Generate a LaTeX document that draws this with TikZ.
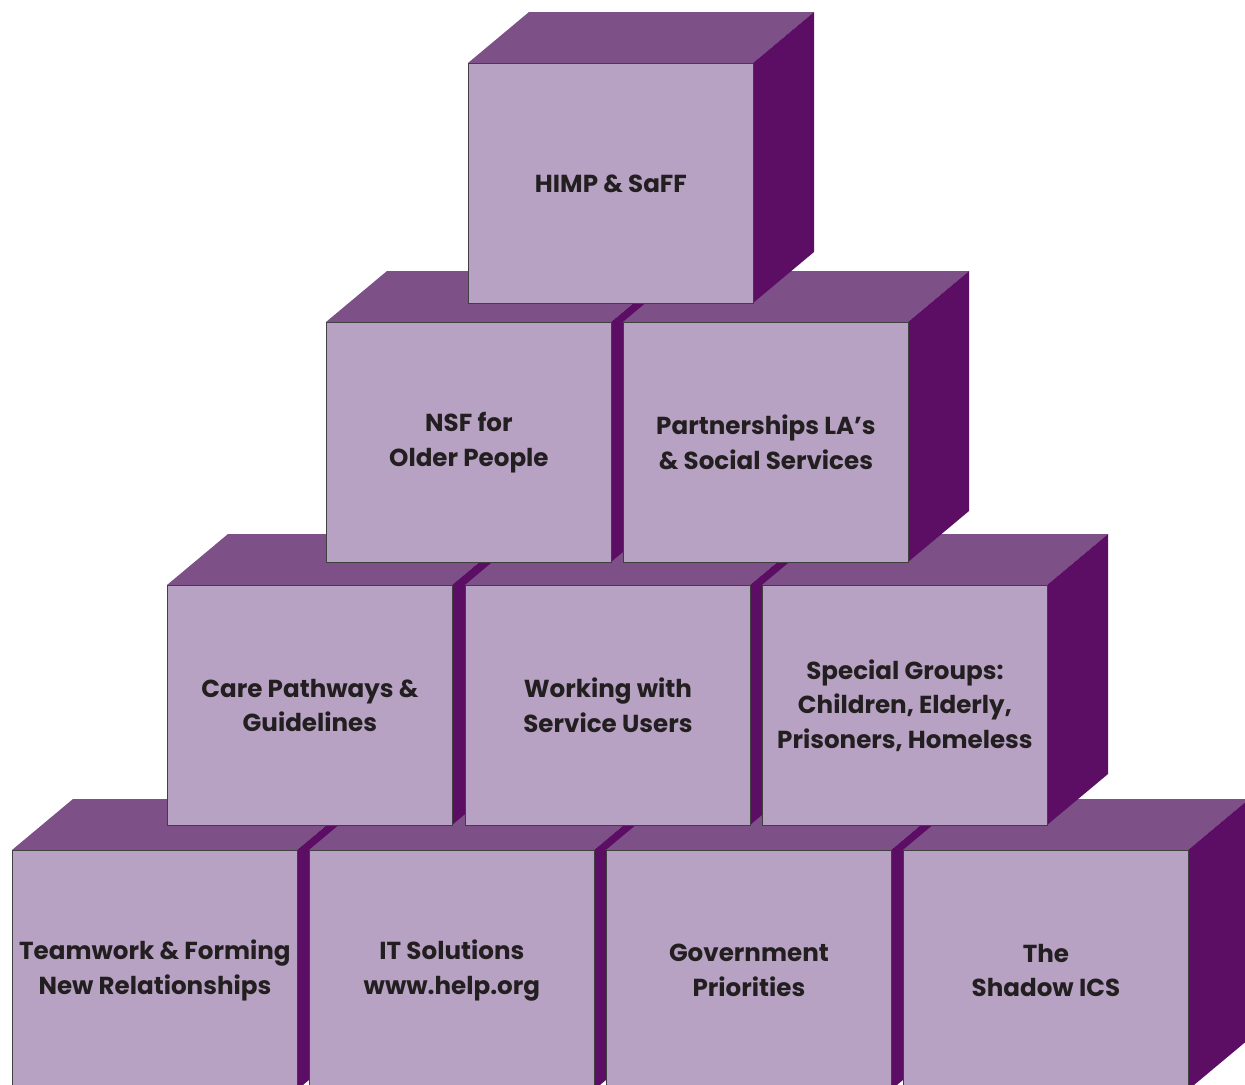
\documentclass[tikz,border=0pt]{standalone}
\usepackage{fontspec}
\setmainfont{Poppins}
\usepackage{tikz}

\definecolor{cubefront}{RGB}{184,162,196}
\definecolor{cubetop}{RGB}{125,80,136}
\definecolor{cubeside}{RGB}{92,13,100}
\definecolor{cubetext}{RGB}{35,31,32}

\tikzstyle{face} = [rectangle, draw=black!75, line width=0.5pt, fill=cubefront,
    minimum width=5.7cm, minimum height=4.8cm, inner sep=0pt, anchor=north west,
    align=center, text=cubetext, font=\fontsize{14pt}{19.6pt}\selectfont\bfseries]
\tikzstyle{lid} = [fill=cubetop]
\tikzstyle{flank} = [fill=cubeside]

% one block: name, x, y of the front face corner, label
\newcommand{\block}[4]{%
  \fill[lid] (#2,#3) -- ++(61,-51) -- ++(285,0) -- ++(-61,51) -- cycle;
  \fill[flank] (#2+285,#3) -- ++(61,-51) -- ++(0,240) -- ++(-61,51) -- cycle;
  \node[face] (#1) at (#2,#3) {#4};
}

\begin{document}
\begin{tikzpicture}[x=0.02cm, y=-0.02cm]
  \useasboundingbox (0,0) rectangle (1245,1085);
  \clip (0,0) rectangle (1245,1085);
  % bottom row
  \block{teamwork}{12}{850}{Teamwork \& Forming\\New Relationships}
  \block{itsol}{309}{850}{IT Solutions\\www.help.org}
  \block{govt}{606}{850}{Government\\Priorities}
  \block{shadow}{903}{850}{The\\Shadow ICS}
  % third row
  \block{pathways}{167}{585}{Care Pathways \&\\Guidelines}
  \block{users}{465}{585}{Working with\\Service Users}
  \block{groups}{762}{585}{Special Groups:\\Children, Elderly,\\Prisoners, Homeless}
  % second row
  \block{nsf}{326}{322}{NSF for\\Older People}
  \block{partners}{623}{322}{Partnerships LA’s\\\& Social Services}
  % top
  \block{himp}{468}{63}{HIMP \& SaFF}
\end{tikzpicture}
\end{document}
